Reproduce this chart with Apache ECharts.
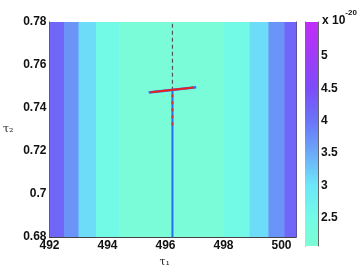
<!DOCTYPE html>
<html><head><meta charset="utf-8">
<script src="https://cdn.jsdelivr.net/npm/echarts@6/dist/echarts.min.js"></script>
<style>html,body{margin:0;padding:0;background:#fff}#c{width:360px;height:273px}</style>
</head><body><div id="c"></div>
<script>
// Heat map bands (tau1 edges, value x1e-20)
const bandStart = [492, 492.5, 493.0, 493.6, 494.4, 496.3, 498.0, 498.9, 499.55, 500.1];
const bandEnd   = [492.5, 493.0, 493.6, 494.4, 496.3, 498.0, 498.9, 499.55, 500.1, 500.5];
const bandValue = [4.2, 3.75, 3.15, 2.6, 2.2, 2.18, 2.6, 3.15, 3.75, 4.2];
const xTicks = [492, 494, 496, 498, 500];
const yTicks = [0.68, 0.7, 0.72, 0.74, 0.76, 0.78];
const cbTicks = [2.5, 3, 3.5, 4, 4.5, 5];
const cbRange = [2.07, 5.52];
// Overlaid lines
const blueVertical = [[496.24, 0.68], [496.24, 0.748]];
const redDashVertical = [[496.24, 0.732], [496.24, 0.748]];
const grayDashed = [[496.24, 0.748], [496.24, 0.78]];
const blueTilted = [[495.42, 0.7472], [497.06, 0.7497]];
const redTilted = [[495.48, 0.7473], [496.98, 0.7496]];
// colormap stops (value -> colour)
const cmapValues = [2.07, 2.5, 3.0, 3.5, 4.0, 4.5, 5.0, 5.52];
const cmapColors = ['#7dfcd5', '#73fbe6', '#6ce8f8', '#6caaf8', '#6a74f8', '#7c4cf8', '#a03cf8', '#c22cf8'];

const chart = echarts.init(document.getElementById('c'), null, {renderer: 'canvas'});
const axisCol = '#444';
const lbl = {fontFamily: 'Liberation Sans, Arial, sans-serif', fontWeight: 'bold', fontSize: 12, color: '#111'};
const bandData = bandStart.map((s, i) => [s, bandEnd[i], bandValue[i]]);
// gradient: offset 0 = top (max value)
const cbStops = cmapValues.map((v, i) => ({offset: 1 - (v - cbRange[0]) / (cbRange[1] - cbRange[0]), color: cmapColors[i]}))
  .sort((a, b) => a.offset - b.offset);

function lineSeries(data, color, width, type, z) {
  return {type: 'line', xAxisIndex: 0, yAxisIndex: 0, data: data, showSymbol: false, symbol: 'none', silent: true, z: z,
    color: color, lineStyle: {color: color, width: width, type: type}, animation: false};
}

chart.setOption({
  animation: false,
  title: {text: '{a|x 10}{b|-20}', left: 317, top: 4,
    textStyle: {rich: {a: {fontFamily: 'Liberation Sans, Arial', fontWeight: 'bold', fontSize: 12, color: '#111', padding: [6, 0, 0, 0]},
                       b: {fontFamily: 'Liberation Sans, Arial', fontWeight: 'bold', fontSize: 8, color: '#111', verticalAlign: 'top'}}}},
  grid: [
    {left: 44, top: 22, width: 252, height: 224, show: false},
    {left: 305, top: 22, width: 13, height: 224, show: false}
  ],
  visualMap: {show: false, type: 'continuous', min: cbRange[0], max: cbRange[1], dimension: 2, seriesIndex: 0,
    inRange: {color: cmapColors}},
  xAxis: [
    {type: 'value', gridIndex: 0, min: 492, max: 500.5, position: 'bottom',
      name: 'τ₁', nameLocation: 'middle', nameGap: 16,
      nameTextStyle: {fontFamily: 'DejaVu Serif', fontSize: 11, color: '#222', padding: [0, 16, 0, 0]},
      axisLine: {show: true, onZero: false, lineStyle: {color: axisCol}},
      axisTick: {show: true, inside: true, length: 3, customValues: xTicks, lineStyle: {color: axisCol}},
      axisLabel: {...lbl, margin: 3, customValues: xTicks}, splitLine: {show: false}},
    {type: 'value', gridIndex: 0, min: 492, max: 500.5, position: 'top',
      axisLine: {show: true, onZero: false, lineStyle: {color: axisCol}},
      axisTick: {show: true, inside: true, length: 3, customValues: xTicks, lineStyle: {color: axisCol}},
      axisLabel: {show: false}, splitLine: {show: false}},
    {type: 'value', gridIndex: 1, min: 0, max: 1, show: false}
  ],
  yAxis: [
    {type: 'value', gridIndex: 0, min: 0.68, max: 0.78, position: 'left',
      name: 'τ₂', nameLocation: 'middle', nameRotate: 0, nameGap: 36,
      nameTextStyle: {fontFamily: 'DejaVu Serif', fontSize: 11, color: '#222', padding: [0, 0, 8, 0]},
      axisLine: {show: true, onZero: false, lineStyle: {color: axisCol}},
      axisTick: {show: true, inside: true, length: 3, customValues: yTicks, lineStyle: {color: axisCol}},
      axisLabel: {...lbl, margin: 3, customValues: yTicks}, splitLine: {show: false}},
    {type: 'value', gridIndex: 0, min: 0.68, max: 0.78, position: 'right',
      axisLine: {show: true, onZero: false, lineStyle: {color: axisCol}},
      axisTick: {show: true, inside: true, length: 3, customValues: yTicks, lineStyle: {color: axisCol}},
      axisLabel: {show: false}, splitLine: {show: false}},
    {type: 'value', gridIndex: 1, min: cbRange[0], max: cbRange[1], position: 'right',
      axisLine: {show: true, onZero: false, lineStyle: {color: '#666'}},
      axisTick: {show: true, inside: true, length: 2, customValues: cbTicks, lineStyle: {color: '#555'}},
      axisLabel: {...lbl, margin: 3, customValues: cbTicks}, splitLine: {show: false}},
    {type: 'value', gridIndex: 1, min: cbRange[0], max: cbRange[1], position: 'left',
      axisLine: {show: true, onZero: false, lineStyle: {color: '#666'}},
      axisTick: {show: true, inside: true, length: 2, customValues: cbTicks, lineStyle: {color: '#555'}},
      axisLabel: {show: false}, splitLine: {show: false}}
  ],
  series: [
    {type: 'custom', xAxisIndex: 0, yAxisIndex: 0, data: bandData, encode: {x: [0, 1]}, z: 1, silent: true,
      renderItem: function (params, api) {
        const p0 = api.coord([api.value(0), 0.78]);
        const p1 = api.coord([api.value(1), 0.68]);
        return {type: 'rect', shape: {x: p0[0], y: p0[1], width: p1[0] - p0[0] + 0.5, height: p1[1] - p0[1]},
          style: {fill: api.visual('color')}};
      }},
    {type: 'custom', xAxisIndex: 2, yAxisIndex: 2, data: [[0, cbRange[0], 1, cbRange[1]]], z: 1, silent: true,
      renderItem: function (params, api) {
        const p0 = api.coord([0, cbRange[1]]);
        const p1 = api.coord([1, cbRange[0]]);
        return {type: 'rect', shape: {x: p0[0], y: p0[1], width: p1[0] - p0[0], height: p1[1] - p0[1]},
          style: {fill: new echarts.graphic.LinearGradient(0, 0, 0, 1, cbStops)}};
      }},
    lineSeries(grayDashed, '#4a5a5a', 1.2, [4, 3], 3),
    lineSeries(blueVertical, '#2a6ef0', 2, 'solid', 4),
    lineSeries(redDashVertical, '#e0302a', 2, [3, 4], 5),
    lineSeries(blueTilted, '#3070f0', 2.5, 'solid', 6),
    lineSeries(redTilted, '#e82020', 2, 'solid', 7)
  ]
});
</script></body></html>
